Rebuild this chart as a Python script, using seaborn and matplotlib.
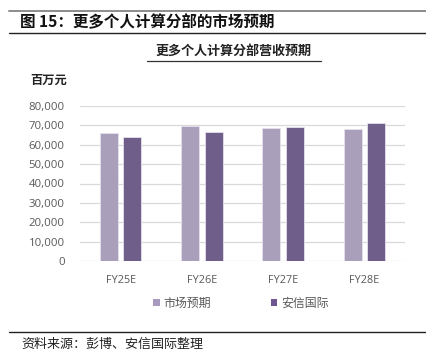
#!/usr/bin/env python3
"""PC segment revenue expectations: market consensus vs. Essence International."""

import matplotlib

matplotlib.use("Agg")
import matplotlib.pyplot as plt
import pandas as pd
import seaborn as sns
from matplotlib.lines import Line2D
from matplotlib.patches import Patch

YEARS = ["FY25E", "FY26E", "FY27E", "FY28E"]
MARKET = [65900, 69700, 68800, 67950]
ESSENCE = [64150, 66550, 69150, 71050]
SERIES = ["市场预期", "安信国际"]
COLORS = ["#A89ABE", "#6E5790"]
Y_TICKS = [0, 10000, 20000, 30000, 40000, 50000, 60000, 70000, 80000]

W, H = 426, 354


def main() -> None:
    sns.set_theme(style="white")
    plt.rcParams["font.family"] = ["Noto Sans CJK SC", "DejaVu Sans"]

    df = pd.DataFrame({
        "year": YEARS * 2,
        "value": MARKET + ESSENCE,
        "series": [SERIES[0]] * len(YEARS) + [SERIES[1]] * len(YEARS),
    })

    fig = plt.figure(figsize=(W / 100, H / 100), dpi=100)
    ax = fig.add_axes([80 / W, 1 - 261 / H, 325 / W, 155 / H])
    sns.barplot(
        data=df, x="year", y="value", hue="series", hue_order=SERIES,
        palette=COLORS, width=0.576, gap=0.23, ax=ax, legend=False,
        edgecolor="#E6E1EE", linewidth=0.6, zorder=3,
    )
    ax.set_ylim(0, 80000)
    ax.set_yticks(Y_TICKS)
    ax.set_yticklabels([f"{v:,}" for v in Y_TICKS])
    ax.yaxis.grid(True, color="#D9D9D9", linewidth=0.9, zorder=0)
    ax.set_axisbelow(True)
    for side in ax.spines.values():
        side.set_visible(False)
    ax.set_xlabel("")
    ax.set_ylabel("")
    ax.tick_params(axis="y", length=0, pad=11, labelsize=8.2, labelcolor="#595959")
    ax.tick_params(axis="x", length=0, pad=10, labelsize=7.8, labelcolor="#595959")
    for t in ax.get_xticklabels() + ax.get_yticklabels():
        t.set_fontfamily(["Open Sans", "DejaVu Sans"])

    # header and footer rules
    fig.add_artist(Line2D([9 / W, 1], [1 - 11 / H] * 2, color="#8C8C8C", lw=1.4))
    fig.add_artist(Line2D([9 / W, 1], [1 - 33 / H] * 2, color="#222222", lw=1.0))
    fig.add_artist(Line2D([147 / W, 321 / W], [1 - 61 / H] * 2, color="#333333", lw=0.9))
    fig.add_artist(Line2D([9 / W, 1], [1 - 332 / H] * 2, color="#222222", lw=1.0))

    fig.text(20 / W, 1 - 22 / H, "图 15：更多个人计算分部的市场预期",
             fontsize=11.2, fontweight="bold", va="center", ha="left", color="#111111")
    fig.text(234 / W, 1 - 51 / H, "更多个人计算分部营收预期",
             fontsize=9.4, fontweight="bold", va="center", ha="center", color="#222222")
    fig.text(30 / W, 1 - 80 / H, "百万元",
             fontsize=8.8, fontweight="bold", va="center", ha="left", color="#222222")
    fig.text(21 / W, 1 - 344 / H, "资料来源：彭博、安信国际整理",
             fontsize=9.4, va="center", ha="left", color="#222222", style="italic")

    handles = [Patch(facecolor=c, edgecolor="none") for c in COLORS]
    fig.legend(
        handles, SERIES, loc="center", bbox_to_anchor=(241 / W, 1 - 303 / H),
        ncol=2, frameon=False, fontsize=8.6, labelcolor="#595959",
        handlelength=0.55, handleheight=0.55, handletextpad=0.3, columnspacing=5.0,
    )

    fig.savefig("out.png", dpi=100)
    plt.close(fig)


if __name__ == "__main__":
    main()
